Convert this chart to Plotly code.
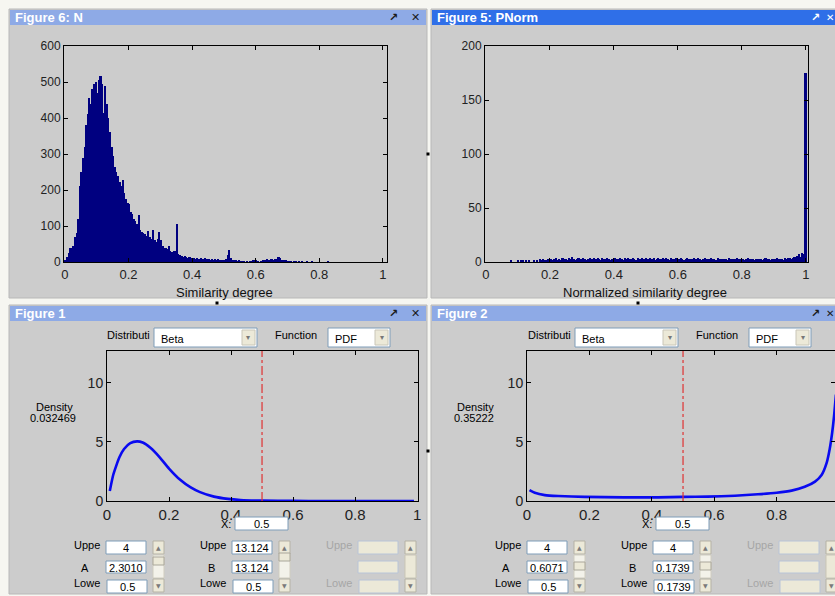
import plotly.graph_objects as go

# ---------------- data ----------------
# Figure 6: N  -- histogram of similarity degree (bin start 0, width 0.005)
sim_bin_width = 0.005
sim_counts = [5, 15, 25, 40, 40, 45, 70, 80, 120, 210,
              250, 290, 320, 380, 410, 455, 440, 480, 495, 500,
              470, 505, 518, 495, 415, 488, 440, 400, 360, 320,
              295, 265, 250, 240, 222, 210, 227, 192, 175, 165,
              160, 140, 132, 120, 115, 105, 130, 90, 82, 80,
              78, 72, 85, 70, 65, 88, 60, 55, 65, 83,
              60, 45, 40, 38, 35, 45, 30, 28, 30, 30,
              105, 22, 20, 18, 15, 18, 14, 12, 15, 10,
              12, 10, 9, 12, 8, 10, 9, 8, 10, 7,
              9, 6, 8, 5, 7, 6, 8, 5, 4, 6,
              5, 8, 20, 32, 12, 6, 3, 4, 2, 3,
              1, 2, 1, 0, 1, 0, 1, 2, 5, 3,
              4, 1, 0, 2, 4, 6, 5, 7, 6, 8,
              7, 5, 9, 8, 15, 10, 6, 5, 4, 3,
              2, 1, 2, 0, 1, 1, 0, 1, 0, 1,
              0, 0, 1, 0, 0, 1, 0, 0, 0, 0,
              0, 0, 0, 0, 0, 1, 0, 0, 0, 0,
              0, 0, 0, 0, 0, 0, 0, 0, 0, 0,
              0, 0, 0, 0, 0, 0, 0, 0, 0, 0,
              0, 0, 0, 0, 0, 0, 0, 0, 0, 0]

# Figure 5: PNorm -- histogram of normalized similarity degree (bin centres k*0.005)
pnorm_bin_width = 0.005
pnorm_counts = [0, 0, 0, 0, 0, 0, 0, 0, 0, 0,
                0, 0, 0, 0, 0, 0, 1, 0, 0, 0,
                1, 0, 2, 1, 0, 1, 0, 1, 0, 0,
                2, 0, 1, 0, 3, 2, 3, 2, 1, 3,
                2, 3, 2, 3, 4, 2, 3, 2, 4, 3,
                3, 2, 4, 3, 5, 3, 2, 3, 4, 3,
                3, 4, 3, 2, 3, 4, 3, 3, 4, 3,
                4, 3, 2, 4, 3, 3, 4, 3, 2, 3,
                3, 4, 3, 3, 4, 3, 2, 4, 3, 4,
                3, 3, 4, 3, 2, 4, 3, 3, 4, 3,
                4, 3, 3, 4, 3, 4, 2, 3, 4, 3,
                3, 4, 3, 4, 3, 2, 4, 3, 3, 4,
                3, 3, 4, 3, 2, 3, 4, 3, 3, 3,
                4, 3, 3, 4, 3, 2, 3, 4, 3, 3,
                3, 4, 3, 3, 2, 4, 3, 3, 3, 3,
                3, 2, 4, 3, 3, 3, 3, 4, 3, 3,
                3, 3, 2, 3, 4, 3, 3, 3, 2, 3,
                3, 3, 3, 2, 3, 4, 3, 3, 2, 3,
                3, 3, 4, 3, 3, 3, 2, 4, 3, 4,
                4, 3, 4, 5, 5, 6, 7, 5, 8, 7,
                175]

# Figure 1: Beta PDF, A=2.3010, B=13.124
beta1_x = [0.009, 0.02, 0.03, 0.04, 0.055, 0.075, 0.097, 0.115, 0.14, 0.17,
           0.2, 0.235, 0.27, 0.3, 0.345, 0.39, 0.43, 0.5, 0.6, 0.7, 0.8, 0.9, 0.99]
beta1_y = [0.85, 2.2, 3.0, 3.7, 4.4, 4.9, 5.05, 4.95, 4.5, 3.7,
           2.75, 1.82, 1.15, 0.75, 0.37, 0.18, 0.09, 0.03, 0.01, 0.0, 0.0, 0.0, 0.0]

# Figure 2: Beta PDF, A=0.6071, B=0.1739
beta2_x = [0.008, 0.025, 0.057, 0.1, 0.185, 0.31, 0.42, 0.5, 0.58, 0.666, 0.74,
           0.8, 0.848, 0.89, 0.923, 0.944, 0.96, 0.97, 0.978, 0.984, 0.99]
beta2_y = [0.93, 0.7, 0.5, 0.42, 0.35, 0.31, 0.31, 0.35, 0.37, 0.45, 0.57,
           0.7, 0.88, 1.2, 1.64, 2.2, 3.2, 4.4, 5.8, 7.2, 9.0]

x_marker = 0.5

# tick labels
x_ticks = [0, 0.2, 0.4, 0.6, 0.8, 1]
x_tick_text = ["0", "0.2", "0.4", "0.6", "0.8", "1"]
y_ticks_n = [0, 100, 200, 300, 400, 500, 600]
y_ticks_p = [0, 50, 100, 150, 200]
y_ticks_pdf = [0, 5, 10]

# ---------------- helpers ----------------
W, H = 835, 596
def PX(x):
    return x / W
def PY(y):
    return 1 - y / H

FONT = "Liberation Sans"
NAVY = "#000080"
GRAY = "#cccccc"

shapes = []
annotations = []

def rect(x0, y0, x1, y1, fill, line=None, lw=1, layer="below"):
    shapes.append(dict(type="rect", xref="paper", yref="paper",
                       x0=PX(x0), x1=PX(x1), y0=PY(y1), y1=PY(y0),
                       fillcolor=fill, layer=layer,
                       line=dict(color=line or fill, width=lw if line else 0)))

def text(x, y, s, size=11, color="#000", anchor="center", bold=False, family=FONT):
    if bold:
        s = "<b>" + s + "</b>"
    annotations.append(dict(x=PX(x), y=PY(y), xref="paper", yref="paper", text=s,
                            showarrow=False, xanchor=anchor, yanchor="middle",
                            font=dict(family=family, size=size, color=color)))

# ---------------- window frames ----------------
windows = [
    (9, 9, 427, 298, "Figure 6: N", "#8eaae6", "#1a1a1a", True),
    (431, 9, 845, 298, "Figure 5: PNorm", "#2f6fe8", "#ffffff", False),
    (9, 305, 427, 594, "Figure 1", "#8eaae6", "#1a1a1a", True),
    (431, 305, 845, 594, "Figure 2", "#8eaae6", "#1a1a1a", False),
]
for (x0, y0, x1, y1, title, bar, icon, full) in windows:
    rect(x0, y0, x1, y1, GRAY, line="#b8b8b8")
    rect(x0 + 1, y0 + 1, x1 - 1, y0 + 16, bar)
    text(x0 + 4, y0 + 8.5, title, size=13, color="#ffffff", anchor="left", bold=True,
         family="Liberation Sans")
    text(x0 + 384, y0 + 8.5, "↗", size=11, color=icon, bold=True, family="DejaVu Sans")
    if full:
        text(x0 + 406, y0 + 8.5, "✕", size=11, color=icon, bold=True, family="DejaVu Sans")
    else:
        text(x0 + 399, y0 + 8.5, "✕", size=10, color=icon, bold=True, family="DejaVu Sans")

for (cx, cy) in [(428, 154), (428, 451), (217, 303), (638, 303)]:
    rect(cx - 1.5, cy - 1.5, cx + 1.5, cy + 1.5, "#000000", layer="above")

# ---------------- UI controls of the distribution tool ----------------
BOX_LINE = "#7f9db9"
BTN = "#ece9d8"

def textbox(x0, y0, x1, y1, s, enabled=True):
    rect(x0, y0, x1, y1, "#ffffff" if enabled else "#ece9d8", line=BOX_LINE if enabled else "#b8c4d8",
         layer="above")
    if s:
        text((x0 + x1) / 2, (y0 + y1) / 2 + 0.5, s, size=11)

def button(x0, y0, x1, y1, glyph):
    rect(x0, y0, x1, y1, BTN, line="#b5b2a5", layer="above")
    text((x0 + x1) / 2, (y0 + y1) / 2, glyph, size=6, color="#7a7a7a", family="DejaVu Sans")

def dropdown(x0, y0, x1, y1, s):
    rect(x0, y0, x1, y1, "#ffffff", line=BOX_LINE, layer="above")
    text(x0 + 5, (y0 + y1) / 2 + 1, s, size=11, anchor="left")
    rect(x1 - 15, y0 + 2, x1 - 2, y1 - 2, BTN, line="#c9c6b8", layer="above")
    text(x1 - 8.5, (y0 + y1) / 2, "▾", size=8, color="#777", family="DejaVu Sans")

panels = [
    (0, "0.032469", ["4", "2.3010", "0.5"], ["13.124", "13.124", "0.5"], 561, 557),
    (421, "0.35222", ["4", "0.6071", "0.5"], ["4", "0.1739", "0.1739"], 566, 566),
]
for (dx, dens, colA, colB, thumbA, thumbB) in panels:
    text(dx + 128, 335, "Distributi", size=11)
    dropdown(dx + 154, 328, dx + 257, 347, "Beta")
    text(dx + 296, 335, "Function", size=11)
    dropdown(dx + 328, 328, dx + 390, 347, "PDF")
    text(dx + 54, 407, "Density", size=11)
    text(dx + 53, 418, dens, size=11)
    text(dx + 226, 524, "X:", size=11)
    textbox(dx + 235, 517, dx + 288, 530, "0.5")
    for (cx, lab_mid, vals, thumb, enabled) in [(0, "A", colA, thumbA, True),
                                                (126, "B", colB, thumbB, True),
                                                (252, "", ["", "", ""], None, False)]:
        lc = "#000" if enabled else "#a6a6a6"
        text(dx + cx + 87, 545, "Uppe", size=11, color=lc)
        text(dx + cx + 85, 568, lab_mid, size=11, color=lc)
        text(dx + cx + 87, 583, "Lowe", size=11, color=lc)
        textbox(dx + cx + 106, 541, dx + cx + 146, 554, vals[0], enabled)
        textbox(dx + cx + 106, 561, dx + cx + 146, 573, vals[1], enabled)
        textbox(dx + cx + 107, 580, dx + cx + 147, 593, vals[2], enabled)
        sx0, sx1 = dx + cx + 153, dx + cx + 164
        button(sx0, 541, sx1, 554, "▲")
        rect(sx0, 555, sx1, 578, "#f3f2ea", line="#d0cdc0", layer="above")
        if thumb:
            rect(sx0, thumb - 4, sx1, thumb + 4, BTN, line="#a9a69a", layer="above")
        else:
            rect(sx0, 555, sx1, 578, BTN, line="#c9c6b8", layer="above")
        button(sx0, 579, sx1, 592, "▼")

# ---------------- traces ----------------
fig = go.Figure()

sim_x = [sim_bin_width * (i + 0.5) for i in range(len(sim_counts))]
fig.add_trace(go.Bar(x=sim_x, y=sim_counts, width=sim_bin_width, marker=dict(color=NAVY, line=dict(width=0)),
                     xaxis="x", yaxis="y", showlegend=False))

pn_x = [pnorm_bin_width * i for i in range(len(pnorm_counts))]
fig.add_trace(go.Bar(x=pn_x, y=pnorm_counts, width=pnorm_bin_width, marker=dict(color=NAVY, line=dict(width=0)),
                     xaxis="x2", yaxis="y2", showlegend=False))

for (bx, by, xa, ya, ymax) in [(beta1_x, beta1_y, "x3", "y3", 12.7), (beta2_x, beta2_y, "x4", "y4", 12.7)]:
    fig.add_trace(go.Scatter(x=bx, y=by, mode="lines", line=dict(color="#0a0af0", width=2.6, shape="spline", smoothing=0.6),
                             xaxis=xa, yaxis=ya, showlegend=False, cliponaxis=True))
    fig.add_trace(go.Scatter(x=[x_marker, x_marker], y=[0, ymax], mode="lines",
                             line=dict(color="#e03434", width=1.2, dash="dashdot"),
                             xaxis=xa, yaxis=ya, showlegend=False))

# ---------------- axes ----------------
def axis(domain, rng, tv, tt, size, anchor):
    return dict(domain=domain, range=rng, tickvals=tv, ticktext=tt, anchor=anchor,
                ticks="inside", ticklen=4, tickcolor="#000", tickwidth=1,
                showline=True, linecolor="#000", linewidth=1, mirror="ticks",
                showgrid=False, zeroline=False, fixedrange=True, automargin=False,
                tickfont=dict(family=FONT, size=size, color="#222"))

top_y = [PY(262), PY(46)]
bot_y = [PY(501), PY(351)]
layout_axes = dict(
    xaxis=axis([PX(64), PX(387)], [-0.003, 1.013], x_ticks, x_tick_text, 13, "y"),
    yaxis=axis(top_y, [0, 600], y_ticks_n, [str(v) for v in y_ticks_n], 12, "x"),
    xaxis2=axis([PX(485), PX(808)], [-0.003, 1.007], x_ticks, x_tick_text, 13, "y2"),
    yaxis2=axis(top_y, [0, 200], y_ticks_p, [str(v) for v in y_ticks_p], 12, "x2"),
    xaxis3=axis([PX(107), PX(418)], [0, 1.003], x_ticks, x_tick_text, 15, "y3"),
    yaxis3=axis(bot_y, [0, 12.7], y_ticks_pdf, [str(v) for v in y_ticks_pdf], 14, "x3"),
    xaxis4=axis([PX(527), 1.0], [0, 0.987], x_ticks, x_tick_text, 15, "y4"),
    yaxis4=axis(bot_y, [0, 12.7], y_ticks_pdf, [str(v) for v in y_ticks_pdf], 14, "x4"),
)

text(224, 292, "Similarity degree", size=13, color="#111")
text(645, 292, "Normalized similarity degree", size=13, color="#111")

fig.update_layout(
    width=W, height=H, margin=dict(l=0, r=0, t=0, b=0, pad=0, autoexpand=False),
    paper_bgcolor="#f6f6f1", plot_bgcolor="#ffffff",
    bargap=0, barmode="overlay", showlegend=False,
    shapes=shapes, annotations=annotations,
    **layout_axes,
)

fig.write_html("out.html", config={"displayModeBar": False},
               post_script="document.body.style.margin='0';document.body.style.overflow='hidden';")
